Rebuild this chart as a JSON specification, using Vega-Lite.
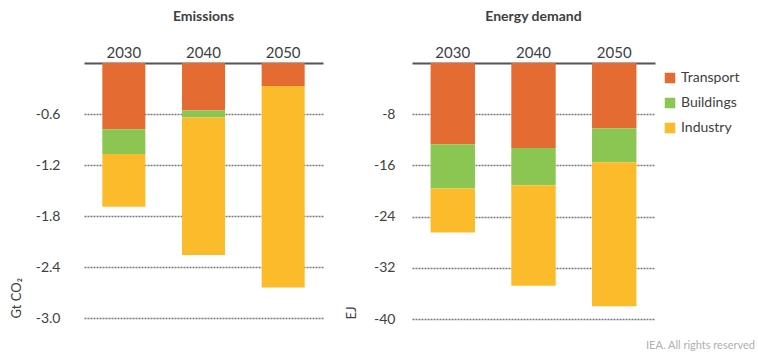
{
  "$schema": "https://vega.github.io/schema/vega-lite/v6.json",
  "background": "white",
  "padding": {"left": 10, "top": 10, "right": 5, "bottom": 5},
  "title": {"text": "IEA. All rights reserved", "orient": "bottom", "anchor": "end", "fontSize": 11, "font": "Lato", "fontWeight": "normal", "color": "#b0b0b0", "offset": 14, "dx": 7},
  "datasets": {
    "emis": [
      {"year": "2030", "sector": "Transport", "value": -0.78},
      {"year": "2030", "sector": "Buildings", "value": -0.29},
      {"year": "2030", "sector": "Industry", "value": -0.62},
      {"year": "2040", "sector": "Transport", "value": -0.56},
      {"year": "2040", "sector": "Buildings", "value": -0.08},
      {"year": "2040", "sector": "Industry", "value": -1.62},
      {"year": "2050", "sector": "Transport", "value": -0.27},
      {"year": "2050", "sector": "Buildings", "value": 0},
      {"year": "2050", "sector": "Industry", "value": -2.37}
    ],
    "energy": [
      {"year": "2030", "sector": "Transport", "value": -12.7},
      {"year": "2030", "sector": "Buildings", "value": -6.9},
      {"year": "2030", "sector": "Industry", "value": -6.9},
      {"year": "2040", "sector": "Transport", "value": -13.3},
      {"year": "2040", "sector": "Buildings", "value": -5.8},
      {"year": "2040", "sector": "Industry", "value": -15.7},
      {"year": "2050", "sector": "Transport", "value": -10.2},
      {"year": "2050", "sector": "Buildings", "value": -5.3},
      {"year": "2050", "sector": "Industry", "value": -22.5}
    ]
  },
  "spacing": 22,
  "hconcat": [
    {
      "data": {"name": "emis"},
      "transform": [{"calculate": "indexof(['Transport','Buildings','Industry'], datum.sector)", "as": "stackOrder"}],
      "width": 239,
      "height": 255,
      "title": {"text": "Emissions", "fontSize": 14, "fontWeight": "bold", "font": "Lato", "color": "#404040", "offset": 21},
      "mark": {"type": "bar"},
      "encoding": {
        "x": {"field": "year", "type": "nominal", "title": null,
              "scale": {"paddingInner": 0.46, "paddingOuter": 0.23},
              "axis": {"orient": "top", "ticks": false, "labelAngle": 0, "labelPadding": 3, "labelFontSize": 15, "labelFont": "Lato", "labelColor": "#404040", "domainColor": "#555555", "domainWidth": 2}},
        "y": {"field": "value", "type": "quantitative", "stack": "zero",
              "scale": {"domain": [-3, 0], "nice": false},
              "axis": {"values": [-0.6, -1.2, -1.8, -2.4, -3.0], "labelExpr": "replace(format(datum.value, '.1f'), '\u2212', '-')",
                       "title": "Gt CO\u2082", "titleAnchor": "start", "titleFontSize": 13, "titleFontWeight": "normal", "titleFont": "Lato", "titleColor": "#404040", "titlePadding": 12,
                       "domain": false, "ticks": false, "labelPadding": 24, "labelFontSize": 14, "labelFont": "Lato", "labelColor": "#404040",
                       "grid": true, "gridColor": "#7a7a7a", "gridDash": [2, 1], "gridWidth": 1.5}},
        "order": {"field": "stackOrder", "type": "quantitative"},
        "color": {"field": "sector", "type": "nominal",
                  "scale": {"domain": ["Transport", "Buildings", "Industry"], "range": ["#E46C33", "#8CC652", "#FBBB2B"]},
                  "legend": null}
      }
    },
    {
      "data": {"name": "energy"},
      "transform": [{"calculate": "indexof(['Transport','Buildings','Industry'], datum.sector)", "as": "stackOrder"}],
      "width": 243,
      "height": 256,
      "title": {"text": "Energy demand", "fontSize": 14, "fontWeight": "bold", "font": "Lato", "color": "#404040", "offset": 21},
      "mark": {"type": "bar"},
      "encoding": {
        "x": {"field": "year", "type": "nominal", "title": null,
              "scale": {"paddingInner": 0.45, "paddingOuter": 0.23},
              "axis": {"orient": "top", "ticks": false, "labelAngle": 0, "labelPadding": 3, "labelFontSize": 15, "labelFont": "Lato", "labelColor": "#404040", "domainColor": "#555555", "domainWidth": 2}},
        "y": {"field": "value", "type": "quantitative", "stack": "zero",
              "scale": {"domain": [-40, 0], "nice": false},
              "axis": {"values": [-8, -16, -24, -32, -40], "labelExpr": "replace(format(datum.value, 'd'), '\u2212', '-')",
                       "title": "EJ", "titleAnchor": "start", "titleFontSize": 13, "titleFontWeight": "normal", "titleFont": "Lato", "titleColor": "#404040", "titlePadding": 15,
                       "domain": false, "ticks": false, "labelPadding": 17, "labelFontSize": 14, "labelFont": "Lato", "labelColor": "#404040",
                       "grid": true, "gridColor": "#7a7a7a", "gridDash": [2, 1], "gridWidth": 1.5}},
        "order": {"field": "stackOrder", "type": "quantitative"},
        "color": {"field": "sector", "type": "nominal",
                  "scale": {"domain": ["Transport", "Buildings", "Industry"], "range": ["#E46C33", "#8CC652", "#FBBB2B"]},
                  "legend": {"title": null, "orient": "right", "offset": 0, "symbolType": "square", "symbolSize": 110, "symbolStrokeWidth": 0,
                             "labelFontSize": 14, "labelFont": "Lato", "labelColor": "#404040", "rowPadding": 11, "padding": 8}}
      }
    }
  ],
  "resolve": {"scale": {"y": "independent"}, "legend": {"color": "independent"}},
  "config": {"view": {"stroke": null}}
}
